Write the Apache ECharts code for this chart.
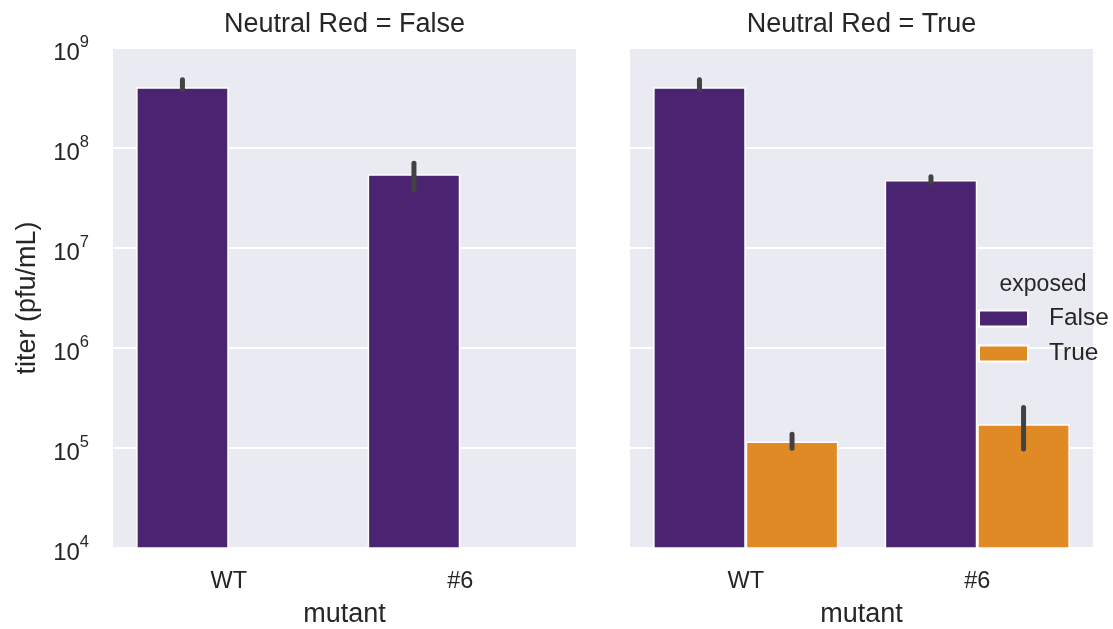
<!DOCTYPE html>
<html>
<head>
<meta charset="utf-8">
<title>titer by mutant</title>
<script src="https://cdn.jsdelivr.net/npm/echarts@6/dist/echarts.min.js"></script>
<style>
  html, body { margin: 0; padding: 0; background: #ffffff; }
  #chart { width: 1113px; height: 629px; }
</style>
</head>
<body>
<div id="chart"></div>
<script>
// Categories and hue levels
const mutants = ['WT', '#6'];
const exposedLevels = ['False', 'True'];
const panelTitles = ['Neutral Red = False', 'Neutral Red = True'];

// Neutral Red = False panel (only unexposed samples)
const nrFalseMean = [4.05e8, 5.46e7];
const nrFalseLo = [3.82e8, 3.78e7];
const nrFalseHi = [4.81e8, 7.05e7];

// Neutral Red = True panel, exposed = False
const nrTrueUnexpMean = [4.05e8, 4.79e7];
const nrTrueUnexpLo = [3.82e8, 4.52e7];
const nrTrueUnexpHi = [4.81e8, 5.15e7];

// Neutral Red = True panel, exposed = True
const nrTrueExpMean = [1.16e5, 1.73e5];
const nrTrueExpLo = [9.95e4, 9.77e4];
const nrTrueExpHi = [1.37e5, 2.54e5];

const COLORS = { False: '#4a2471', True: '#df8a24' };
const TEXT = '#262626';
const FONT = '"Liberation Sans", Arial, sans-serif';

function ciRows(lo, hi) {
  return lo.map((v, i) => [i, v, hi[i]]);
}

// Confidence interval line, shifted to the dodged bar position
function errorRenderer(offsetFrac) {
  return function (params, api) {
    const i = api.value(0);
    const a = api.coord([i, api.value(1)]);
    const b = api.coord([i, api.value(2)]);
    const band = params.coordSys.width / mutants.length;
    const dx = offsetFrac * band;
    return {
      type: 'line',
      shape: { x1: a[0] + dx, y1: a[1], x2: b[0] + dx, y2: b[1] },
      style: { stroke: '#424242', lineWidth: 5, lineCap: 'round' }
    };
  };
}

const grids = [
  { left: 113, top: 48, width: 463, height: 500 },
  { left: 630, top: 48, width: 463, height: 500 }
];

function xAxisFor(gi) {
  return {
    type: 'category', gridIndex: gi, data: mutants,
    axisLine: { show: false }, axisTick: { show: false }, splitLine: { show: false },
    axisLabel: { color: TEXT, fontSize: 23.5, fontFamily: FONT, margin: 22 },
    name: 'mutant', nameLocation: 'middle', nameGap: 53,
    nameTextStyle: { color: TEXT, fontSize: 27, fontFamily: FONT }
  };
}

function yAxisFor(gi) {
  const ax = {
    type: 'log', logBase: 10, gridIndex: gi, min: 1e4, max: 1e9, splitNumber: 5,
    axisLine: { show: false }, axisTick: { show: false },
    splitLine: { show: true, lineStyle: { color: '#ffffff', width: 1.8 } },
    axisLabel: { show: gi === 0 }
  };
  if (gi === 0) {
    ax.axisLabel = {
      show: true, margin: 24, padding: [10, 0, 0, 0],
      formatter: v => '{b|10}{s|' + Math.round(Math.log10(v)) + '}',
      rich: {
        b: { fontSize: 24, fontFamily: FONT, color: TEXT, lineHeight: 38 },
        s: { fontSize: 16.5, fontFamily: FONT, color: TEXT, lineHeight: 16, verticalAlign: 'top' }
      }
    };
    ax.name = 'titer (pfu/mL)';
    ax.nameLocation = 'middle';
    ax.nameGap = 72;
    ax.nameTextStyle = { color: TEXT, fontSize: 27, fontFamily: FONT };
  }
  return ax;
}

function barSeries(name, gi, values) {
  return {
    type: 'bar', name: name, xAxisIndex: gi, yAxisIndex: gi,
    data: values, barWidth: '40%', barGap: '0%', clip: true,
    itemStyle: { color: COLORS[name], borderColor: '#ffffff', borderWidth: 1.5 },
    z: 2
  };
}

function errSeries(gi, rows, offsetFrac) {
  return {
    type: 'custom', xAxisIndex: gi, yAxisIndex: gi,
    data: rows, encode: { x: 0, y: [1, 2] },
    renderItem: errorRenderer(offsetFrac), z: 5, silent: true
  };
}

const chart = echarts.init(document.getElementById('chart'), null, { renderer: 'canvas' });

chart.setOption({
  animation: false,
  backgroundColor: '#ffffff',
  textStyle: { fontFamily: FONT },
  grid: grids.map(g => Object.assign({
    show: true, backgroundColor: '#eaeaf2', borderWidth: 0,
    containLabel: false, outerBoundsMode: 'none'
  }, g)),
  xAxis: [xAxisFor(0), xAxisFor(1)],
  yAxis: [yAxisFor(0), yAxisFor(1)],
  legend: {
    data: exposedLevels, orient: 'vertical', left: 978, top: 306,
    icon: 'rect', itemWidth: 49, itemHeight: 16, itemGap: 10, padding: 0,
    textStyle: { color: TEXT, fontSize: 24.5, fontFamily: FONT, padding: [4, 0, 0, 16] }
  },
  graphic: [
    { type: 'text', x: 113 + 463 / 2, y: 25, style: { text: panelTitles[0], fill: TEXT, font: '27px ' + FONT, textAlign: 'center', textVerticalAlign: 'middle' } },
    { type: 'text', x: 630 + 463 / 2, y: 25, style: { text: panelTitles[1], fill: TEXT, font: '27px ' + FONT, textAlign: 'center', textVerticalAlign: 'middle' } },
    { type: 'text', x: 1043, y: 285, style: { text: 'exposed', fill: TEXT, font: '23px ' + FONT, textAlign: 'center', textVerticalAlign: 'middle' } }
  ],
  series: [
    barSeries('False', 0, nrFalseMean),
    barSeries('True', 0, mutants.map(() => '-')),
    errSeries(0, ciRows(nrFalseLo, nrFalseHi), -0.2),
    barSeries('False', 1, nrTrueUnexpMean),
    barSeries('True', 1, nrTrueExpMean),
    errSeries(1, ciRows(nrTrueUnexpLo, nrTrueUnexpHi), -0.2),
    errSeries(1, ciRows(nrTrueExpLo, nrTrueExpHi), 0.2)
  ]
});
</script>
</body>
</html>
